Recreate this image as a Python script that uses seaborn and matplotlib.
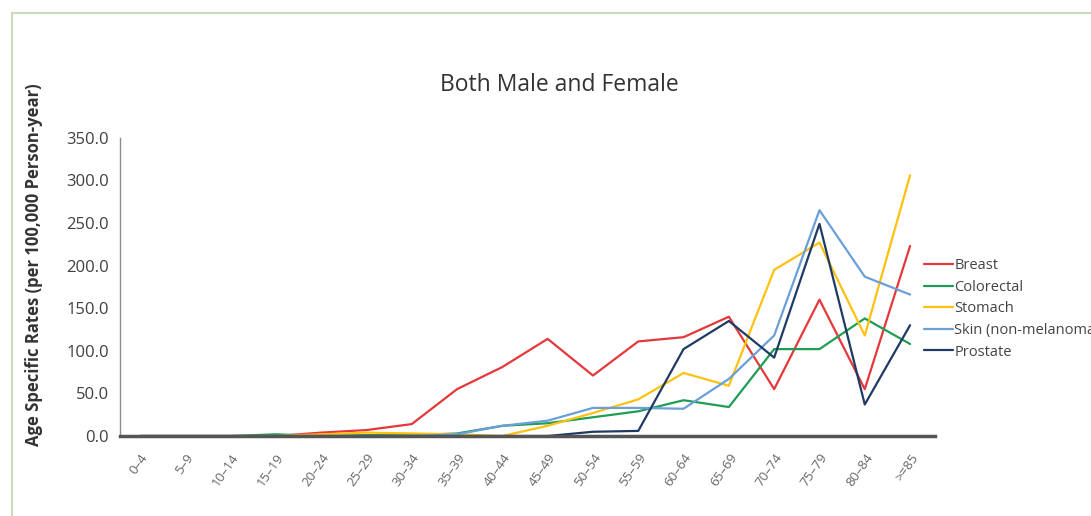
import pandas as pd
import matplotlib.pyplot as plt
import matplotlib.patches as patches
from matplotlib.ticker import FormatStrFormatter
import seaborn as sns

# age groups and age specific rates (per 100,000 person-year)
age_groups = ['0\u20134', '5\u20139', '10\u201314', '15\u201319', '20\u201324', '25\u201329',
              '30\u201334', '35\u201339', '40\u201344', '45\u201349', '50\u201354', '55\u201359',
              '60\u201364', '65\u201369', '70\u201374', '75\u201379', '80\u201384', '>=85']
breast = [0, 0, 0, 0, 4, 7, 14, 55, 81, 114, 71, 111, 116, 140, 55, 160, 55, 223]
colorectal = [0, 0, 0, 2, 0, 1, 1, 3, 12, 15, 22, 29, 42, 34, 102, 102, 138, 108]
stomach = [0, 0, 0, 0, 2, 4, 3, 2, 0, 12, 27, 43, 74, 59, 195, 227, 118, 306]
skin = [0, 0, 0, 0, 0, 0, 0, 2, 12, 18, 33, 33, 32, 67, 118, 265, 187, 166]
prostate = [0, 0, 0, 0, 0, 0, 0, 0, 0, 0, 5, 6, 102, 135, 92, 249, 37, 130]

cancer_names = ['Breast', 'Colorectal', 'Stomach', 'Skin (non-melanoma', 'Prostate']
line_colors = ['#e5383b', '#1e9e55', '#fcc20f', '#6a9fd8', '#1f3a63']

# long format table for seaborn
rows = []
for name, vals in zip(cancer_names, [breast, colorectal, stomach, skin, prostate]):
    for i, v in enumerate(vals):
        rows.append({'pos': i, 'Age': age_groups[i], 'Rate': v, 'Cancer': name})
df = pd.DataFrame(rows)

sns.set_style('white')
plt.rcParams['font.family'] = ['Open Sans', 'DejaVu Sans']

fig = plt.figure(figsize=(10.91, 5.16), dpi=100)
ax = fig.add_axes([0.110, 0.155, 0.747, 0.578])

sns.lineplot(data=df, x='pos', y='Rate', hue='Cancer', hue_order=cancer_names,
             palette=line_colors, linewidth=1.6, ax=ax)

ax.set_xlim(-0.44, 17.55)
ax.set_ylim(0, 350)
ax.set_yticks(range(0, 351, 50))
ax.yaxis.set_major_formatter(FormatStrFormatter('%.1f'))
ax.set_xticks(range(len(age_groups)))
ax.set_xticklabels(age_groups, rotation=55, ha='right', rotation_mode='anchor',
                   fontsize=9.5, color='#666666')
ax.tick_params(axis='y', length=0, pad=8, labelsize=12, labelcolor='#404040')
ax.tick_params(axis='x', length=0, pad=11)

ax.set_xlabel('')
ax.set_ylabel('Age Specific Rates (per 100,000 Person-year)', fontsize=12,
              fontweight='bold', color='#333333')
ax.yaxis.set_label_coords(-0.095, 0.574)

sns.despine(ax=ax)
ax.spines['left'].set_color('#8c8c8c')
ax.spines['left'].set_linewidth(1)
ax.spines['bottom'].set_color('#555555')
ax.spines['bottom'].set_linewidth(2.5)

fig.text(0.513, 0.835, 'Both Male and Female', ha='center', va='center',
         fontsize=16.5, color='#333333')

leg = ax.legend(loc='center left', bbox_to_anchor=(0.986, 0.426), frameon=False,
                fontsize=10.5, handlelength=2.0, handletextpad=0.1, labelspacing=0.45,
                borderpad=0, borderaxespad=0)
for t in leg.get_texts():
    t.set_color('#444444')

# light green frame around the chart
frame = patches.Rectangle((12 / 1091, -0.1), 1.2, 1.1 - 13 / 516,
                          transform=fig.transFigure, fill=False,
                          edgecolor='#c8dcbc', linewidth=1.5)
fig.patches.append(frame)

fig.savefig('out.png', dpi=100)
